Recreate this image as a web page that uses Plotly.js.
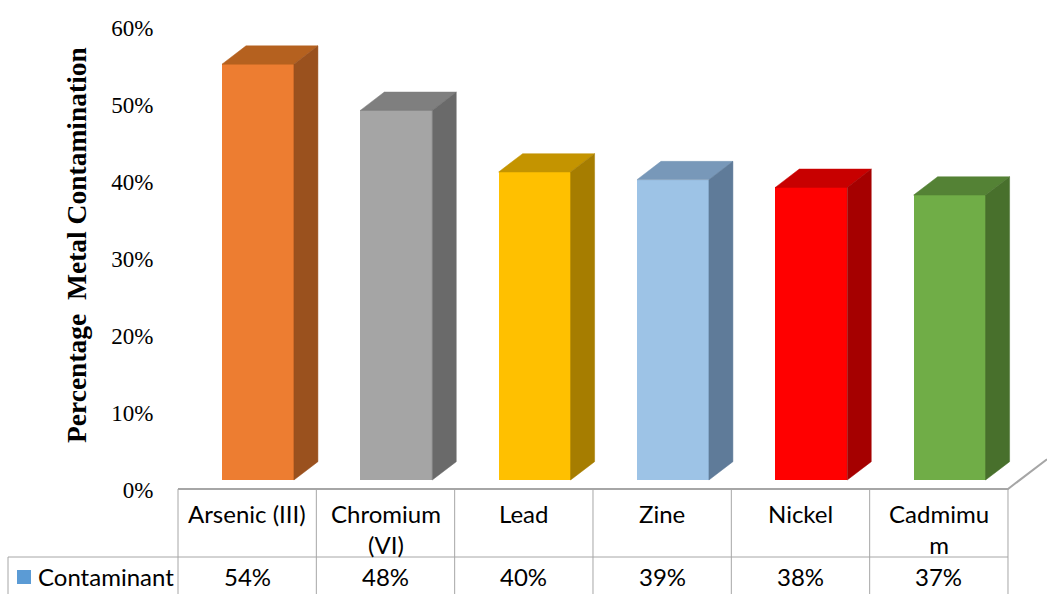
<!DOCTYPE html>
<html>
<head>
<meta charset="utf-8">
<script src="https://cdn.plot.ly/plotly-3.0.1.min.js"></script>
<style>
  html, body { margin: 0; padding: 0; background: #ffffff; }
  #chart { width: 1047px; height: 594px; }
</style>
</head>
<body>
<div id="chart"></div>
<script>
// Metal contamination by contaminant (percent)
const categories = ["Arsenic (III)", "Chromium<br>(VI)", "Lead", "Zine", "Nickel", "Cadmimu<br>m"];
const values = [54, 48, 40, 39, 38, 37];
const seriesName = "Contaminant";
const yTitle = "Percentage\u00a0 Metal Contamination";
const tickValues = [0, 10, 20, 30, 40, 50, 60];
const tickLabels = ["0%", "10%", "20%", "30%", "40%", "50%", "60%"];
const frontColors = ["#ED7D31", "#A5A5A5", "#FFC000", "#9DC3E6", "#FF0000", "#70AD47"];
const topColors   = ["#B5611F", "#7F7F7F", "#C49400", "#7898B9", "#C80000", "#548235"];
const sideColors  = ["#9A511E", "#6A6A6A", "#A67D00", "#5F7B99", "#A50000", "#48702C"];
const legendColor = "#5B9BD5";

// 3D column geometry (axis units)
const xMin = -0.5, xMax = 5.782;
const barOffset = 0.078;   // front face shift toward the right
const barWidth = 0.52;
const depthX = 0.1735;
const depthY = 2.38;
const floorLift = 1.3;     // bars stand on the floor slab above the table
const floorEdge = 0.13;

const gridColor = "#A6A6A6";
const sansFont = "Lato, 'Liberation Sans', sans-serif";
const serifFont = "'Liberation Serif', 'Times New Roman', serif";

// plot area in pixels: left 178, top 28, bottom 490
const plotTop = 28, plotBottom = 490, plotLeft = 178, plotW = 1047 - 178;
const pyToPaper = py => (plotBottom - py) / (plotBottom - plotTop);
const pxToPaper = px => (px - plotLeft) / plotW;
const xToPaper = x => (x - xMin) / (xMax - xMin);

const traces = [];

// floor front edge and right edge (on the main value axis)
const floorK = (xMax - 5.5) / depthX;
traces.push({
  type: "scatter", mode: "lines", cliponaxis: false,
  x: [-0.5, 5.5, 5.5 + floorK * depthX],
  y: [floorEdge, floorEdge, floorEdge + floorK * depthY],
  line: { color: gridColor, width: 2 },
  showlegend: false, hoverinfo: "skip"
});

// front faces
traces.push({
  type: "bar",
  x: values.map((_, i) => i + barOffset),
  y: values,
  width: barWidth,
  yaxis: "y2",
  marker: { color: frontColors, line: { width: 0 } },
  name: seriesName,
  showlegend: false,
  hoverinfo: "skip"
});

// top and side faces
values.forEach((v, i) => {
  const xl = i + barOffset - barWidth / 2;
  const xr = i + barOffset + barWidth / 2;
  traces.push({
    type: "scatter", mode: "lines", yaxis: "y2", fill: "toself",
    x: [xl, xl + depthX, xr + depthX, xr, xl],
    y: [v, v + depthY, v + depthY, v, v],
    fillcolor: topColors[i], line: { width: 0.5, color: topColors[i] },
    showlegend: false, hoverinfo: "skip"
  });
  traces.push({
    type: "scatter", mode: "lines", yaxis: "y2", fill: "toself",
    x: [xr, xr + depthX, xr + depthX, xr, xr],
    y: [0, depthY, v + depthY, v, 0],
    fillcolor: sideColors[i], line: { width: 0.5, color: sideColors[i] },
    showlegend: false, hoverinfo: "skip"
  });
});

// data table grid
const rowTop = 489, rowMid = 557, rowBottom = 600;
const shapes = [];
const line = (x0, y0, x1, y1) => ({
  type: "line", xref: "paper", yref: "paper",
  x0: x0, y0: pyToPaper(y0), x1: x1, y1: pyToPaper(y1),
  line: { color: gridColor, width: 1 }
});
for (let k = 0; k <= categories.length; k++) {
  const xp = xToPaper(k - 0.5);
  shapes.push(line(xp, rowTop, xp, rowBottom));
}
shapes.push(line(pxToPaper(8), rowMid, xToPaper(5.5), rowMid));
shapes.push(line(pxToPaper(8), rowMid, pxToPaper(8), rowBottom));
// legend key
shapes.push({
  type: "rect", xref: "paper", yref: "paper",
  x0: pxToPaper(17), x1: pxToPaper(31), y0: pyToPaper(570), y1: pyToPaper(584),
  fillcolor: legendColor, line: { width: 0 }
});

const annotations = [];
categories.forEach((c, i) => {
  annotations.push({
    xref: "x", yref: "paper", x: i, y: pyToPaper(497),
    xanchor: "center", yanchor: "top", showarrow: false, text: c,
    font: { family: sansFont, size: 24, color: "#000000" }
  });
  annotations.push({
    xref: "x", yref: "paper", x: i, y: pyToPaper(576),
    xanchor: "center", yanchor: "middle", showarrow: false, text: values[i] + "%",
    font: { family: sansFont, size: 24, color: "#000000" }
  });
});
annotations.push({
  xref: "paper", yref: "paper", x: pxToPaper(36), y: pyToPaper(576),
  xanchor: "left", yanchor: "middle", showarrow: false, text: seriesName,
  font: { family: sansFont, size: 24, color: "#000000" }
});
// value axis title
annotations.push({
  xref: "paper", yref: "paper", x: pxToPaper(76), y: pyToPaper(245),
  xanchor: "center", yanchor: "middle", showarrow: false, textangle: -90,
  text: "<b>" + yTitle + "</b>",
  font: { family: serifFont, size: 27.5, color: "#000000" }
});

const layout = {
  width: 1047, height: 594,
  margin: { l: plotLeft, r: 0, t: plotTop, b: 594 - plotBottom },
  paper_bgcolor: "#ffffff", plot_bgcolor: "rgba(0,0,0,0)",
  showlegend: false, hovermode: false, bargap: 0,
  xaxis: {
    range: [xMin, xMax], showgrid: false, zeroline: false, showline: false,
    showticklabels: false, ticks: "", fixedrange: true
  },
  yaxis: {
    range: [0, 60], tickvals: tickValues, ticktext: tickLabels,
    showgrid: false, zeroline: false, showline: false,
    ticks: "outside", ticklen: 19, tickcolor: "rgba(0,0,0,0)",
    tickfont: { family: serifFont, size: 23, color: "#000000" },
    fixedrange: true
  },
  yaxis2: {
    overlaying: "y", range: [-floorLift, 60 - floorLift],
    showgrid: false, zeroline: false, showline: false, showticklabels: false,
    fixedrange: true
  },
  shapes: shapes,
  annotations: annotations
};

Plotly.newPlot("chart", traces, layout, { displayModeBar: false, staticPlot: true });
</script>
</body>
</html>
